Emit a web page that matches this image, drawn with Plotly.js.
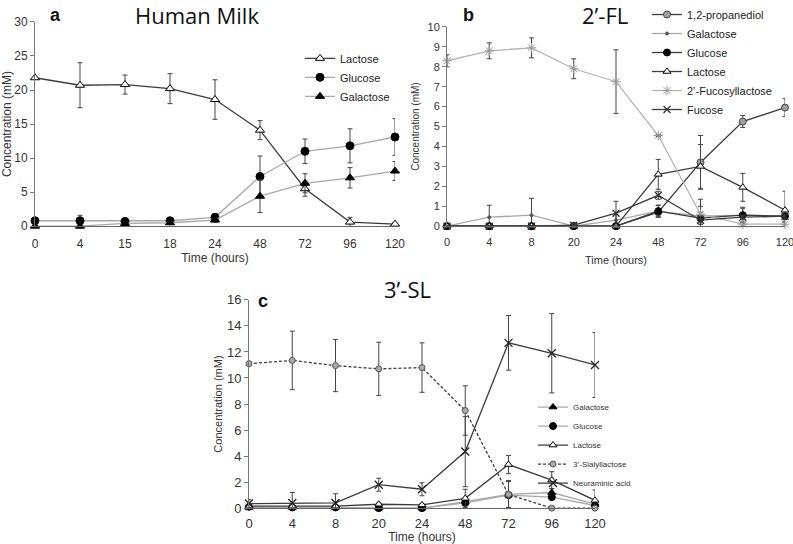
<!DOCTYPE html>
<html>
<head>
<meta charset="utf-8">
<script src="https://cdn.plot.ly/plotly-3.0.1.min.js"></script>
<style>html,body{margin:0;padding:0;background:#fff;}#chart{width:793px;height:544px;}</style>
</head>
<body>
<div id="chart"></div>
<script>
// ---------- Panel a: Human Milk ----------
const timesA = ['0', '4', '15', '18', '24', '48', '72', '96', '120'];
const lactoseA = [21.8, 20.7, 20.8, 20.2, 18.6, 14.1, 5.5, 0.6, 0.3];
const lactoseAErr = [0, 3.3, 1.4, 2.2, 2.9, 1.4, 1.1, 0.7, 0.2];
const glucoseA = [0.8, 0.8, 0.7, 0.8, 1.3, 7.3, 11.0, 11.8, 13.1];
const glucoseAErr = [0.3, 0.8, 0.3, 0.3, 0.5, 3.0, 1.8, 2.5, 2.7];
const galactoseA = [0.0, 0.0, 0.4, 0.5, 0.9, 4.4, 6.3, 7.1, 8.1];
const galactoseAErr = [0, 0, 0.2, 0.2, 0.3, 2.4, 1.4, 1.5, 1.4];

// ---------- Panel b: 2'-FL ----------
const timesB = ['0', '4', '8', '20', '24', '48', '72', '96', '120'];
const propanediolB = [0, 0, 0, 0, 0, 0.7, 3.2, 5.25, 5.95];
const propanediolBErr = [0, 0, 0, 0, 0, 0.2, 1.35, 0.3, 0.45];
const galactoseB = [0, 0.45, 0.55, 0, 0.3, 0.75, 0.5, 0.55, 0.5];
const galactoseBErr = [0, 0.6, 0.85, 0, 0.3, 0.3, 0.85, 0.4, 0.3];
const glucoseB = [0, 0, 0, 0, 0, 0.75, 0.4, 0.55, 0.5];
const glucoseBErr = [0, 0, 0, 0, 0, 0.3, 0.3, 0.35, 0.25];
const lactoseB = [0, 0, 0, 0, 0, 2.6, 3.0, 1.95, 0.8];
const lactoseBErr = [0, 0, 0, 0, 0, 0.75, 1.1, 0.7, 0.95];
const fucosyllactoseB = [8.3, 8.8, 8.95, 7.9, 7.25, 4.55, 0.6, 0.1, 0.1];
const fucosyllactoseBErr = [0.3, 0.4, 0.5, 0.5, 1.6, 0.05, 0.4, 0.1, 0.1];
const fucoseB = [0, 0, 0, 0.05, 0.65, 1.55, 0.3, 0.45, 0.5];
const fucoseBErr = [0, 0, 0, 0, 0.6, 0.2, 0.2, 0.1, 0.1];

// ---------- Panel c: 3'-SL ----------
const timesC = ['0', '4', '8', '20', '24', '48', '72', '96', '120'];
const galactoseC = [0.05, 0.05, 0.05, 0, 0, 0.5, 1.05, 1.2, 0.3];
const galactoseCErr = [0, 0, 0, 0, 0, 0.3, 1.0, 0.3, 0.2];
const glucoseC = [0.1, 0.05, 0.05, 0, 0, 0.4, 1.0, 0.85, 0.2];
const glucoseCErr = [0, 0, 0, 0, 0, 0.2, 1.1, 0.2, 0.2];
const lactoseC = [0.15, 0.15, 0.15, 0.3, 0.25, 0.75, 3.35, 2.15, 0.6];
const lactoseCErr = [0.1, 0.1, 0.1, 0.1, 0.1, 0.7, 0.7, 0.65, 0.8];
const sialyllactoseC = [11.1, 11.35, 10.95, 10.7, 10.8, 7.5, 1.05, 0, 0];
const sialyllactoseCErr = [0, 2.25, 2.0, 2.05, 1.9, 1.9, 1.05, 0, 0];
const neuraminicC = [0.35, 0.4, 0.4, 1.8, 1.45, 4.35, 12.7, 11.9, 11.0];
const neuraminicCErr = [0.3, 0.8, 0.7, 0.5, 0.5, 2.7, 2.1, 3.05, 2.5];

const W = 793, H = 544;
const X = p => p / W;
const Y = p => 1 - p / H;
const FONT = 'Liberation Sans, Arial, sans-serif';
const DARK = '#3c3c3c', LIGHT = '#a8a8a8';

function tr(name, x, y, err, ax, leg, o) {
  return {
    type: 'scatter', mode: 'lines+markers', name: name, x: x, y: y,
    xaxis: 'x' + ax, yaxis: 'y' + ax, legend: leg, cliponaxis: false,
    line: {color: o.lc, width: o.lw || 1.3, dash: o.dash || 'solid'},
    marker: {symbol: o.sym, size: o.size || 8, color: o.mc,
             line: {color: o.olc || '#000', width: o.olw || 1}},
    error_y: {type: 'data', array: err, visible: true, color: '#444', thickness: 1, width: 2.5}
  };
}

const data = [
  tr('Lactose', timesA, lactoseA, lactoseAErr, '', 'legend', {lc: DARK, sym: 'triangle-up', mc: '#fff', size: 8}),
  tr('Glucose', timesA, glucoseA, glucoseAErr, '', 'legend', {lc: LIGHT, sym: 'circle', mc: '#000', size: 8}),
  tr('Galactose', timesA, galactoseA, galactoseAErr, '', 'legend', {lc: LIGHT, sym: 'triangle-up', mc: '#000', size: 8}),

  tr('1,2-propanediol', timesB, propanediolB, propanediolBErr, '2', 'legend2', {lc: DARK, sym: 'circle', mc: '#a0a0a0', olc: '#444', size: 7}),
  tr('Galactose', timesB, galactoseB, galactoseBErr, '2', 'legend2', {lc: LIGHT, sym: 'circle', mc: '#555', olc: '#555', size: 3}),
  tr('Glucose', timesB, glucoseB, glucoseBErr, '2', 'legend2', {lc: DARK, sym: 'circle', mc: '#000', size: 7}),
  tr('Lactose', timesB, lactoseB, lactoseBErr, '2', 'legend2', {lc: DARK, sym: 'triangle-up', mc: '#fff', size: 7}),
  tr('2’-Fucosyllactose', timesB, fucosyllactoseB, fucosyllactoseBErr, '2', 'legend2', {lc: '#b4b4b4', sym: 'asterisk-open', mc: '#999', olc: '#999', size: 8}),
  tr('Fucose', timesB, fucoseB, fucoseBErr, '2', 'legend2', {lc: DARK, sym: 'x-thin-open', mc: '#333', olc: '#333', olw: 1.3, size: 7}),

  tr('Galactose', timesC, galactoseC, galactoseCErr, '3', 'legend3', {lc: LIGHT, sym: 'triangle-up', mc: '#000', size: 7}),
  tr('Glucose', timesC, glucoseC, glucoseCErr, '3', 'legend3', {lc: LIGHT, sym: 'circle', mc: '#000', size: 7}),
  tr('Lactose', timesC, lactoseC, lactoseCErr, '3', 'legend3', {lc: DARK, sym: 'triangle-up', mc: '#fff', size: 7}),
  tr('3’-Sialyllactose', timesC, sialyllactoseC, sialyllactoseCErr, '3', 'legend3', {lc: DARK, dash: '3px,2px', sym: 'circle', mc: '#aaa', olc: '#555', size: 6}),
  tr('Neuraminic acid', timesC, neuraminicC, neuraminicCErr, '3', 'legend3', {lc: DARK, sym: 'x-thin-open', mc: '#222', olc: '#222', olw: 1.3, size: 8})
];

function xAx(dom, yAnchor, fs, tfs, ticklen, standoff) {
  return {
    domain: dom, anchor: yAnchor, type: 'category', range: [0, 8],
    showgrid: false, zeroline: false, showline: true, linecolor: '#666', linewidth: 1,
    ticks: 'outside', ticklen: ticklen, tickcolor: 'rgba(0,0,0,0)',
    tickfont: {family: FONT, size: fs, color: '#333'},
    title: {text: 'Time (hours)', font: {family: FONT, size: tfs, color: '#333'}, standoff: standoff},
    automargin: false, fixedrange: true
  };
}
function yAx(dom, xAnchor, range, dtick, fs, tfs, standoff) {
  return {
    domain: dom, anchor: xAnchor, range: range, dtick: dtick,
    showgrid: false, zeroline: false, showline: true, linecolor: '#777', linewidth: 1,
    ticks: 'outside', ticklen: 4, tickcolor: '#777',
    tickfont: {family: FONT, size: fs, color: '#333'},
    title: {text: 'Concentration (mM)', font: {family: FONT, size: tfs, color: '#333'}, standoff: standoff},
    automargin: false, fixedrange: true
  };
}

const layout = {
  width: W, height: H, margin: {l: 0, r: 0, t: 0, b: 0},
  paper_bgcolor: '#fff', plot_bgcolor: 'rgba(0,0,0,0)',
  showlegend: true,
  xaxis: xAx([X(35), X(395)], 'y', 12, 12, 6, 4),
  yaxis: yAx([Y(225), Y(20)], 'x', [0, 30], 5, 12, 12, 3),
  xaxis2: xAx([X(447), X(785)], 'y2', 11, 11, 6, 8),
  yaxis2: yAx([Y(225), Y(25)], 'x2', [0, 10], 1, 11, 10, 6),
  xaxis3: xAx([X(249), X(595)], 'y3', 13, 12, 3, 6),
  yaxis3: yAx([Y(508), Y(299)], 'x3', [0, 16], 2, 13, 11, 2),
  legend: {x: X(300), y: Y(42), xanchor: 'left', yanchor: 'top', bgcolor: 'rgba(0,0,0,0)',
           font: {family: FONT, size: 11, color: '#222'}, itemwidth: 30},
  legend2: {x: X(647), y: Y(-2), xanchor: 'left', yanchor: 'top', bgcolor: 'rgba(0,0,0,0)',
            font: {family: FONT, size: 11, color: '#222'}, itemwidth: 30},
  legend3: {x: X(533), y: Y(392), xanchor: 'left', yanchor: 'top', bgcolor: 'rgba(0,0,0,0)',
            font: {family: FONT, size: 8, color: '#333'}, itemwidth: 30},
  annotations: [
    {text: 'Human Milk', x: X(197), y: Y(13), xref: 'paper', yref: 'paper', xanchor: 'center', yanchor: 'middle', showarrow: false,
     font: {family: 'Open Sans, sans-serif', size: 22, color: '#111'}},
    {text: '<b>a</b>', x: X(55), y: Y(13), xref: 'paper', yref: 'paper', xanchor: 'center', yanchor: 'middle', showarrow: false,
     font: {family: FONT, size: 18, color: '#111'}},
    {text: '2’-FL', x: X(605), y: Y(13), xref: 'paper', yref: 'paper', xanchor: 'center', yanchor: 'middle', showarrow: false,
     font: {family: 'Open Sans, sans-serif', size: 22, color: '#111'}},
    {text: '<b>b</b>', x: X(468), y: Y(13), xref: 'paper', yref: 'paper', xanchor: 'center', yanchor: 'middle', showarrow: false,
     font: {family: FONT, size: 18, color: '#111'}},
    {text: '3’-SL', x: X(407), y: Y(288), xref: 'paper', yref: 'paper', xanchor: 'center', yanchor: 'middle', showarrow: false,
     font: {family: 'Open Sans, sans-serif', size: 22, color: '#111'}},
    {text: '<b>c</b>', x: X(263), y: Y(300), xref: 'paper', yref: 'paper', xanchor: 'center', yanchor: 'middle', showarrow: false,
     font: {family: FONT, size: 18, color: '#111'}}
  ]
};

Plotly.newPlot('chart', data, layout, {displayModeBar: false, staticPlot: true});
</script>
</body>
</html>
